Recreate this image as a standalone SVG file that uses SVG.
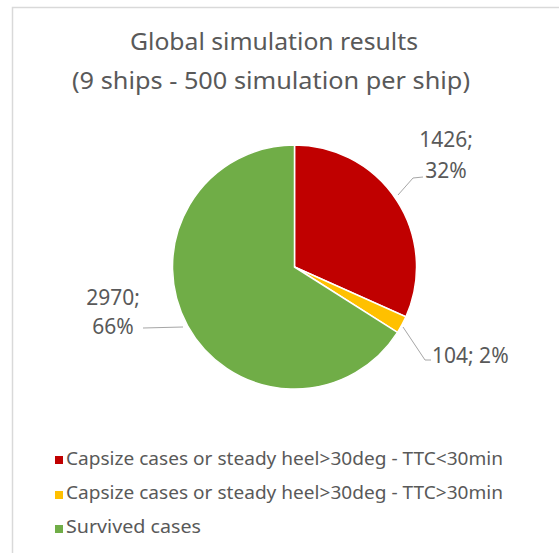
<svg xmlns="http://www.w3.org/2000/svg" width="559" height="553" viewBox="0 0 559 553">
<style>
.t{font-family:"Noto Sans","Open Sans",sans-serif;fill:#595959}
.title{font-size:24px}
.lbl{font-size:21px}
.leg{font-size:18.5px}
.slice{stroke:#fff;stroke-width:1.5}
.lead{fill:none;stroke:#a6a6a6;stroke-width:1}
</style>
<rect x="0" y="0" width="559" height="553" fill="#fff"/>
<g id="frame">
<path d="M12.5,553 L12.5,7.5 L559,7.5" fill="none" stroke="#d9d9d9" stroke-width="1.5"/>
</g>
<g id="title">
<text class="t title" x="274" y="50" text-anchor="middle" textLength="288" lengthAdjust="spacingAndGlyphs">Global simulation results</text>
<text class="t title" x="271" y="89" text-anchor="middle" textLength="398" lengthAdjust="spacingAndGlyphs">(9 ships - 500 simulation per ship)</text>
</g>
<g id="pie">
<g id="slice-red"><path class="slice" fill="#c00000" d="M294.5,267 L294.5,145 A122,122 0 0 1 405.9,316.8 Z"/></g>
<g id="slice-yellow"><path class="slice" fill="#ffc000" d="M294.5,267 L405.9,316.8 A122,122 0 0 1 397.5,332.4 Z"/></g>
<g id="slice-green"><path class="slice" fill="#70ad47" d="M294.5,267 L397.5,332.4 A122,122 0 1 1 294.5,145 Z"/></g>
</g>
<g id="connectors">
<polyline class="lead" points="398,195 413,178 423,177"/>
<polyline class="lead" points="403,327 425,360 431,360"/>
<polyline class="lead" points="183,327 143,328"/>
</g>
<g id="label-red">
<text class="t lbl" x="446" y="147" text-anchor="middle">1426;</text>
<text class="t lbl" x="446" y="178" text-anchor="middle">32%</text>
</g>
<g id="label-yellow">
<text class="t lbl" x="432" y="363">104; 2%</text>
</g>
<g id="label-green">
<text class="t lbl" x="113" y="305" text-anchor="middle">2970;</text>
<text class="t lbl" x="113" y="334" text-anchor="middle">66%</text>
</g>
<g id="legend">
<g id="legend-red"><rect x="55" y="456" width="8" height="8" fill="#c00000"/><text class="t leg" x="66" y="465" textLength="437" lengthAdjust="spacingAndGlyphs">Capsize cases or steady heel&gt;30deg - TTC&lt;30min</text></g>
<g id="legend-yellow"><rect x="55" y="491" width="8" height="8" fill="#ffc000"/><text class="t leg" x="66" y="499" textLength="437" lengthAdjust="spacingAndGlyphs">Capsize cases or steady heel&gt;30deg - TTC&gt;30min</text></g>
<g id="legend-green"><rect x="55" y="525" width="8" height="8" fill="#70ad47"/><text class="t leg" x="66" y="533" textLength="135" lengthAdjust="spacingAndGlyphs">Survived cases</text></g>
</g>
</svg>
